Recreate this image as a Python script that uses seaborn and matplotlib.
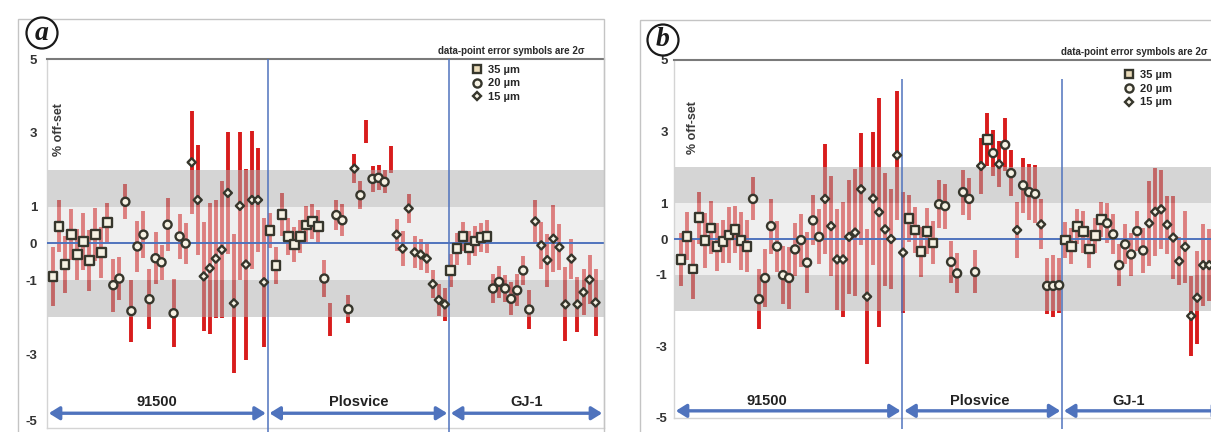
import numpy as np
import pandas as pd
import matplotlib
matplotlib.use('Agg')
import matplotlib.pyplot as plt
import seaborn as sns
from matplotlib.lines import Line2D
from matplotlib.patches import Rectangle, Ellipse

sns.set_style('white')
plt.rcParams['font.family'] = ['Liberation Sans', 'DejaVu Sans']

# reference zircons, in run order along the x axis
groups = ['91500', 'Plosvice', 'GJ-1']

# ---- panel (a): % off-set, 2-sigma half error, spot size in um (0 = symbol not visible)
a_91500_val = [-0.89, 0.47, -0.57, 0.24, -0.30, 0.05, -0.46, 0.24, -0.24, 0.57,
               -1.13, -0.95, 1.13, -1.83, -0.08, 0.24, -1.51, -0.40, -0.51, 0.51,
               -1.89, 0.19, 0.00, 2.20, 1.18, -0.89, -0.67, -0.41, -0.17, 1.37,
               -1.62, 1.02, -0.57, 1.18, 1.18, -1.05]
a_91500_err = [0.80, 0.70, 0.77, 0.70, 0.70, 0.78, 0.83, 0.72, 0.70, 0.52,
               0.72, 0.58, 0.47, 0.83, 0.70, 0.63, 0.81, 0.70, 0.47, 0.72,
               0.92, 0.60, 0.56, 1.40, 1.50, 1.48, 1.77, 1.60, 1.86, 1.66,
               1.88, 2.00, 2.60, 1.86, 1.40, 1.75]
a_91500_spot = [35] * 10 + [20] * 13 + [15] * 13

a_plos_val = [0.35, -0.59, 0.78, 0.19, -0.03, 0.19, 0.50, 0.60, 0.46, -0.95,
              -2.05, 0.77, 0.63, -1.78, 2.03, 1.31, 3.04, 1.75, 1.78, 1.67,
              2.27, 0.24, -0.14, 0.95, -0.24, -0.30, -0.41, -1.10, -1.53, -1.65]
a_plos_err = [0.47, 0.50, 0.58, 0.50, 0.47, 0.45, 0.52, 0.47, 0.45, 0.50,
              0.45, 0.40, 0.43, 0.38, 0.40, 0.38, 0.32, 0.36, 0.34, 0.31,
              0.36, 0.43, 0.47, 0.40, 0.43, 0.43, 0.40, 0.38, 0.43, 0.45]
a_plos_spot = [35] * 9 + [20, 0, 20, 20, 20, 15, 20, 0, 20, 20, 20, 0] + [15] * 9

a_gj_val = [-0.73, -0.14, 0.19, -0.12, 0.07, 0.16, 0.19, -1.22, -1.04, -1.22,
            -1.50, -1.27, -0.73, -1.79, 0.60, -0.05, -0.45, 0.13, -0.10, -1.65,
            -0.41, -1.65, -1.32, -0.98, -1.60]
a_gj_err = [0.45, 0.43, 0.40, 0.47, 0.40, 0.40, 0.45, 0.40, 0.43, 0.36,
            0.45, 0.43, 0.40, 0.54, 0.58, 0.63, 0.72, 0.90, 0.63, 1.00,
            0.54, 0.74, 0.63, 0.67, 0.90]
a_gj_spot = [35] * 7 + [20] * 7 + [15] * 11

# ---- panel (b)
b_91500_val = [-0.57, 0.08, -0.84, 0.59, -0.04, 0.31, -0.22, -0.06, 0.11, 0.27,
               -0.05, -0.20, 1.12, -1.68, -1.09, 0.36, -0.21, -1.01, -1.09, -0.29,
               -0.03, -0.66, 0.52, 0.06, 1.12, 0.36, -0.57, -0.57, 0.06, 0.18,
               1.39, -1.61, 1.13, 0.75, 0.27, 0.00, 2.34, -0.38]
b_91500_err = [0.75, 0.68, 0.84, 0.72, 0.77, 0.74, 0.68, 0.60, 0.77, 0.65,
               0.81, 0.72, 0.60, 0.84, 0.81, 0.77, 0.70, 0.81, 0.86, 0.74,
               0.74, 0.86, 0.70, 0.77, 1.54, 1.40, 1.42, 1.60, 1.60, 1.77,
               1.56, 1.88, 1.86, 3.20, 1.58, 1.40, 1.80, 1.70]
b_91500_spot = [35] * 12 + [20] * 12 + [15] * 14

b_plos_val = [0.58, 0.25, -0.36, 0.22, -0.11, 0.97, 0.92, -0.64, -0.96, 1.31,
              1.12, -0.92, 2.04, 2.79, 2.40, 2.09, 2.63, 1.84, 0.25, 1.50,
              1.31, 1.26, 0.41, -1.31, -1.31, -1.29]
b_plos_err = [0.65, 0.65, 0.70, 0.65, 0.60, 0.67, 0.63, 0.58, 0.56, 0.63,
              0.58, 0.60, 0.77, 0.74, 0.65, 0.65, 0.74, 0.65, 0.77, 0.77,
              0.79, 0.81, 0.70, 0.79, 0.86, 0.77]
b_plos_spot = [35] * 5 + [20] * 7 + [15, 35, 20, 15, 20, 20, 15, 20, 20, 20, 15, 20, 20, 20]

b_gj_val = [-0.03, -0.20, 0.36, 0.20, -0.28, 0.09, 0.55, 0.44, 0.13, -0.73,
            -0.15, -0.43, 0.22, -0.32, 0.44, 0.76, 0.83, 0.40, 0.04, -0.62,
            -0.22, -2.15, -1.64, -0.73, -0.73]
b_gj_err = [0.51, 0.51, 0.49, 0.58, 0.54, 0.49, 0.49, 0.56, 0.56, 0.58,
            0.56, 0.60, 0.56, 0.63, 1.19, 1.23, 1.10, 0.81, 1.16, 0.67,
            1.00, 1.12, 1.30, 1.14, 1.00]
b_gj_spot = [35] * 7 + [20] * 7 + [15] * 11

y_ticks = [5, 4, 3, 2, 1, 0, -1, -2, -3, -4, -5]
y_ticklabels = ['5', '', '3', '', '1', '0', '-1', '', '-3', '', '-5']
legend_labels = ['35 µm', '20 µm', '15 µm']

BLUE = '#4f73bd'
RED = '#d81c1c'
EDGE = '#36362c'
FILL = '#f6f2e4'
markers = {35: 's', 20: 'o', 15: 'D'}
msizes = {35: 40, 20: 34, 15: 17}

W, H = 1211, 432
fig = plt.figure(figsize=(W / 100, H / 100), dpi=100)


def px_rect(l, t, r, b):
    return [l / W, 1 - b / H, (r - l) / W, (b - t) / H]


def draw_panel(ax, vals, errs, spots, xlim, bounds, vspan, arrow_y, label_y,
               label_x, tick_pad, ylab_x, leg_anchor):
    n = [len(v) for v in vals]
    df = pd.DataFrame({'x': np.arange(1, sum(n) + 1),
                       'val': np.concatenate(vals),
                       'err': np.concatenate(errs),
                       'spot': np.concatenate(spots)})

    # 2-sigma bars, then the translucent +-1 / +-2 % bands over them
    ax.vlines(df['x'], df['val'] - df['err'], df['val'] + df['err'],
              color=RED, lw=2.8, zorder=1)
    ax.axhspan(-1, 1, fc='#e0e0e0', alpha=0.51, lw=0, zorder=2)
    ax.axhspan(1, 2, fc='#aeaeae', alpha=0.51, lw=0, zorder=2)
    ax.axhspan(-2, -1, fc='#aeaeae', alpha=0.51, lw=0, zorder=2)
    ax.axhline(0, color=BLUE, lw=1.4, zorder=3)

    sns.scatterplot(data=df[df['spot'] > 0], x='x', y='val', style='spot', size='spot',
                    markers=markers, sizes=msizes, color=FILL, edgecolor=EDGE,
                    linewidth=1.7, legend=False, ax=ax, zorder=4)

    ax.vlines(bounds, vspan[0], vspan[1], color=BLUE, lw=1.1, zorder=3, clip_on=False)

    edges = [xlim[0]] + list(bounds) + [xlim[1]]
    for i, g in enumerate(groups):
        ax.annotate('', xy=(edges[i + 1] - 0.3, arrow_y), xytext=(edges[i] + 0.3, arrow_y),
                    arrowprops=dict(arrowstyle='<|-|>,head_length=0.45,head_width=0.28',
                                    color=BLUE, lw=2.4, mutation_scale=14,
                                    shrinkA=0, shrinkB=0), zorder=5, annotation_clip=False)
        lx = label_x[i] if label_x else (edges[i] + edges[i + 1]) / 2
        ax.text(lx, label_y, g, ha='center', va='center', fontsize=10.5,
                fontweight='bold', color='#222222', zorder=6)

    ax.set_xlim(xlim)
    ax.set_ylim(-5, 5)
    ax.set_xticks([])
    ax.set_yticks(y_ticks)
    ax.set_yticklabels(y_ticklabels)
    ax.tick_params(axis='y', direction='in', length=3, color='#c8c8c8', pad=tick_pad,
                   labelsize=9.5, labelcolor='#333333')
    for lab in ax.get_yticklabels():
        lab.set_fontweight('bold')
    ax.set_xlabel('')
    ax.set_ylabel('')
    for s in ['left', 'right', 'bottom']:
        ax.spines[s].set_color('#d4d4d4')
        ax.spines[s].set_linewidth(1)
    ax.spines['top'].set_color('#7a7a7a')
    ax.spines['top'].set_linewidth(1.5)

    ax.text(ylab_x, 3.1, '% off-set', rotation=90, ha='center', va='center',
            transform=ax.get_yaxis_transform(), fontsize=9, fontweight='bold',
            color='#3a3a3a', zorder=6)
    ax.annotate('data-point error symbols are 2σ', xy=(0.966, 1), xycoords='axes fraction',
                xytext=(0, 2), textcoords='offset points', ha='right', va='bottom',
                fontsize=7, fontweight='bold', color='#2a2a2a', annotation_clip=False)

    handles = [Line2D([], [], ls='', marker=markers[k], ms=np.sqrt(msizes[k]),
                      mfc='#eadbb9' if k == 35 else FILL, mec=EDGE, mew=1.7)
               for k in (35, 20, 15)]
    ax.legend(handles, legend_labels, loc='upper left', bbox_to_anchor=leg_anchor,
              frameon=False, borderaxespad=0, borderpad=0, handlelength=1.0,
              handletextpad=0.5, labelspacing=0.35,
              prop=dict(weight='bold', size=8))


# outer frames of the two pictures
fig.add_artist(Rectangle((18 / W, -0.1), 586 / W, 1.1 - 19 / H, transform=fig.transFigure,
                         fill=False, ec='#c4c4c4', lw=1))
fig.add_artist(Rectangle((640 / W, -0.1), 0.5, 1.1 - 20 / H, transform=fig.transFigure,
                         fill=False, ec='#c4c4c4', lw=1))

ax_a = fig.add_axes(px_rect(47, 59, 604, 428))
draw_panel(ax_a, [a_91500_val, a_plos_val, a_gj_val],
           [a_91500_err, a_plos_err, a_gj_err],
           [a_91500_spot, a_plos_spot, a_gj_spot],
           xlim=(0.0, 92.4), bounds=[36.6, 66.7], vspan=(-5.1, 5),
           arrow_y=-4.6, label_y=-4.3, label_x=None, tick_pad=7, ylab_x=0.022,
           leg_anchor=(0.762, 0.985))
# the lowest label sits on the picture's bottom edge; keep it inside
ax_a.get_yticklabels()[-1].set_va('bottom')

ax_b = fig.add_axes(px_rect(674, 60, 1226, 418))
draw_panel(ax_b, [b_91500_val, b_plos_val, b_gj_val],
           [b_91500_err, b_plos_err, b_gj_err],
           [b_91500_spot, b_plos_spot, b_gj_spot],
           xlim=(-0.17, 91.8), bounds=[37.9, 64.5], vspan=(-5.3, 4.47),
           arrow_y=-4.8, label_y=-4.52, label_x=[15.3, 50.8, 75.5], tick_pad=4.5,
           ylab_x=0.035, leg_anchor=(0.814, 0.973))

# circled panel letters
for letter, cx, cy in [('a', 42, 33), ('b', 663, 40)]:
    fig.add_artist(Ellipse((cx / W, 1 - cy / H), 31 / W, 31 / H, transform=fig.transFigure,
                           fc='white', ec='#1a1a1a', lw=1.6, zorder=10))
    fig.text(cx / W, 1 - cy / H, letter, ha='center', va='center', fontsize=20,
             family='Liberation Serif', style='italic', fontweight='bold',
             color='#1a1a1a', zorder=11)

fig.savefig('out.png', dpi=100)
